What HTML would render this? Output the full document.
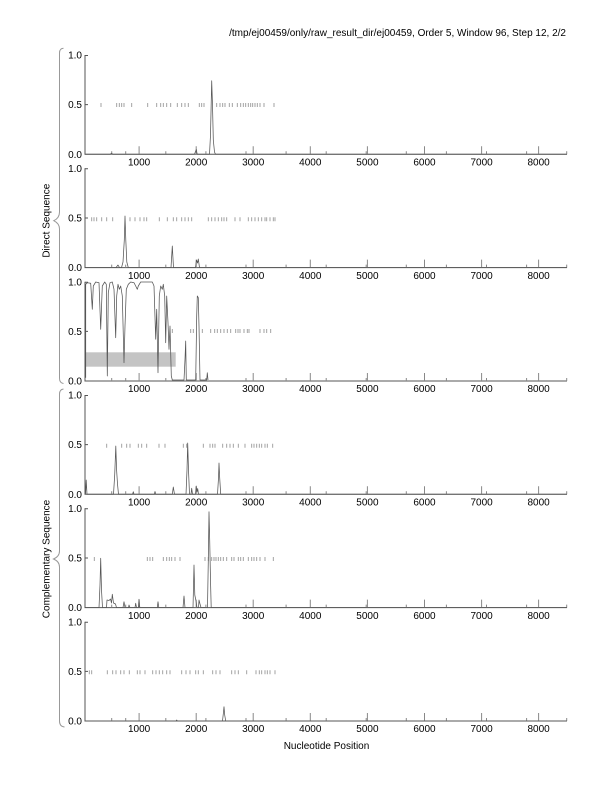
<!DOCTYPE html>
<html><head><meta charset="utf-8"><style>
html,body{margin:0;padding:0;background:#fff;}
svg{display:block;font-family:"Liberation Sans",Arial,sans-serif;}
</style></head><body>
<svg width="612" height="792" viewBox="0 0 612 792" xmlns="http://www.w3.org/2000/svg">
<defs>
<g id="ax">
<path d="M85,0 V99.3 H567" fill="none" stroke="#555" stroke-width="1"/>
<path d="M85,0.5h3M85,49.65h3" stroke="#555" stroke-width="1"/>
<path d="M139.1,99.3v-8M196.2,99.3v-8M253.2,99.3v-8M310.3,99.3v-8M367.4,99.3v-8M424.5,99.3v-8M481.6,99.3v-8M538.6,99.3v-8" stroke="#888" stroke-width="1"/>
<path d="M111.7,99.3v-3M125.7,99.3v-3M165.8,99.3v-3M205.9,99.3v-3M246,99.3v-3M286.1,99.3v-3M326.2,99.3v-3M366.2,99.3v-3M406.3,99.3v-3M446.4,99.3v-3M486.5,99.3v-3M526.6,99.3v-3M566.7,99.3v-3" stroke="#888" stroke-width="1"/>
</g>
</defs>

<text x="566" y="36" font-size="10" text-anchor="end" fill="#000">/tmp/ej00459/only/raw_result_dir/ej00459, Order 5, Window 96, Step 12, 2/2</text>

<!-- braces -->
<path d="M63.5,48.3 Q59.5,48.5 59.5,53 V212 Q59.5,218 53.8,220.7 Q59.5,223.5 59.5,229 V378 Q59.5,383 63.5,383.5" fill="none" stroke="#999" stroke-width="1"/>
<path d="M63.5,389 Q59.5,389.5 59.5,394 V551 Q59.5,556.5 53.5,559 Q59.5,561.5 59.5,567 V721 Q59.5,726.5 64.5,727" fill="none" stroke="#999" stroke-width="1"/>
<text transform="translate(49.5,220.7) rotate(-90)" font-size="10" text-anchor="middle" fill="#000">Direct Sequence</text>
<text transform="translate(49.5,559) rotate(-90)" font-size="10" text-anchor="middle" fill="#000">Complementary Sequence</text>

<!-- panel axes and labels -->
<g transform="translate(0,55)">
<use href="#ax"/>
<g font-size="10" fill="#000" text-anchor="end"><text x="82" y="3.6">1.0</text><text x="82" y="53.2">0.5</text><text x="82" y="102.9">0.0</text></g>
<g font-size="10" fill="#000" text-anchor="middle"><text x="139.1" y="110.5">1000</text><text x="196.2" y="110.5">2000</text><text x="253.2" y="110.5">3000</text><text x="310.3" y="110.5">4000</text><text x="367.4" y="110.5">5000</text><text x="424.5" y="110.5">6000</text><text x="481.6" y="110.5">7000</text><text x="538.6" y="110.5">8000</text></g>
</g>
<g transform="translate(0,168.3)">
<use href="#ax"/>
<g font-size="10" fill="#000" text-anchor="end"><text x="82" y="3.6">1.0</text><text x="82" y="53.2">0.5</text><text x="82" y="102.9">0.0</text></g>
<g font-size="10" fill="#000" text-anchor="middle"><text x="139.1" y="110.5">1000</text><text x="196.2" y="110.5">2000</text><text x="253.2" y="110.5">3000</text><text x="310.3" y="110.5">4000</text><text x="367.4" y="110.5">5000</text><text x="424.5" y="110.5">6000</text><text x="481.6" y="110.5">7000</text><text x="538.6" y="110.5">8000</text></g>
</g>
<g transform="translate(0,281.7)">
<rect x="85" y="70.6" width="90.7" height="14.4" fill="#c4c4c4"/>
<use href="#ax"/>
<g font-size="10" fill="#000" text-anchor="end"><text x="82" y="3.6">1.0</text><text x="82" y="53.2">0.5</text><text x="82" y="102.9">0.0</text></g>
<g font-size="10" fill="#000" text-anchor="middle"><text x="139.1" y="110.5">1000</text><text x="196.2" y="110.5">2000</text><text x="253.2" y="110.5">3000</text><text x="310.3" y="110.5">4000</text><text x="367.4" y="110.5">5000</text><text x="424.5" y="110.5">6000</text><text x="481.6" y="110.5">7000</text><text x="538.6" y="110.5">8000</text></g>
</g>
<g transform="translate(0,395)">
<use href="#ax"/>
<g font-size="10" fill="#000" text-anchor="end"><text x="82" y="3.6">1.0</text><text x="82" y="53.2">0.5</text><text x="82" y="102.9">0.0</text></g>
<g font-size="10" fill="#000" text-anchor="middle"><text x="139.1" y="110.5">1000</text><text x="196.2" y="110.5">2000</text><text x="253.2" y="110.5">3000</text><text x="310.3" y="110.5">4000</text><text x="367.4" y="110.5">5000</text><text x="424.5" y="110.5">6000</text><text x="481.6" y="110.5">7000</text><text x="538.6" y="110.5">8000</text></g>
</g>
<g transform="translate(0,508.3)">
<use href="#ax"/>
<g font-size="10" fill="#000" text-anchor="end"><text x="82" y="3.6">1.0</text><text x="82" y="53.2">0.5</text><text x="82" y="102.9">0.0</text></g>
<g font-size="10" fill="#000" text-anchor="middle"><text x="139.1" y="110.5">1000</text><text x="196.2" y="110.5">2000</text><text x="253.2" y="110.5">3000</text><text x="310.3" y="110.5">4000</text><text x="367.4" y="110.5">5000</text><text x="424.5" y="110.5">6000</text><text x="481.6" y="110.5">7000</text><text x="538.6" y="110.5">8000</text></g>
</g>
<g transform="translate(0,621.7)">
<use href="#ax"/>
<g font-size="10" fill="#000" text-anchor="end"><text x="82" y="3.6">1.0</text><text x="82" y="53.2">0.5</text><text x="82" y="102.9">0.0</text></g>
<g font-size="10" fill="#000" text-anchor="middle"><text x="139.1" y="110.5">1000</text><text x="196.2" y="110.5">2000</text><text x="253.2" y="110.5">3000</text><text x="310.3" y="110.5">4000</text><text x="367.4" y="110.5">5000</text><text x="424.5" y="110.5">6000</text><text x="481.6" y="110.5">7000</text><text x="538.6" y="110.5">8000</text></g>
</g>

<text x="326.5" y="749" font-size="10" text-anchor="middle" fill="#000">Nucleotide Position</text>

<!-- 0.5 marker ticks -->
<g stroke="#999" stroke-width="0.9" fill="none">
<path d="M101,103v4M116.7,103v4M119.3,103v4M121.7,103v4M124,103v4M131.7,103v4M147.7,103v4M156.7,103v4M160.7,103v4M163.3,103v4M166.7,103v4M170.7,103v4M177.3,103v4M181.7,103v4M185,103v4M188.3,103v4M199.3,103v4M201.7,103v4M204,103v4M216.7,103v4M220,103v4M222.7,103v4M225,103v4M229.3,103v4M232.3,103v4M237.3,103v4M240.7,103v4M243.3,103v4M245.7,103v4M248.3,103v4M250.7,103v4M252.7,103v4M255,103v4M257.3,103v4M260,103v4M264,103v4M274,103v4"/>
<path d="M91.7,217.3v4M94,217.3v4M96.7,217.3v4M101.7,217.3v4M106.7,217.3v4M112.7,217.3v4M130,217.3v4M135,217.3v4M140,217.3v4M144,217.3v4M146.7,217.3v4M159.3,217.3v4M167.3,217.3v4M173.3,217.3v4M176.7,217.3v4M181.7,217.3v4M185,217.3v4M188.3,217.3v4M191.7,217.3v4M208.3,217.3v4M211.7,217.3v4M215,217.3v4M218.3,217.3v4M221.7,217.3v4M224,217.3v4M226.7,217.3v4M235,217.3v4M240,217.3v4M248.3,217.3v4M251.7,217.3v4M255,217.3v4M258.3,217.3v4M261.7,217.3v4M265,217.3v4M266.7,217.3v4M270,217.3v4M273.3,217.3v4M275,217.3v4"/>
<path d="M172.3,329v4M190.7,329v4M193.3,329v4M202.3,329v4M210.7,329v4M214.7,329v4M217.3,329v4M220.7,329v4M224,329v4M227.3,329v4M230.7,329v4M235.7,329v4M238,329v4M240,329v4M244,329v4M247.3,329v4M249,329v4M260,329v4M264,329v4M266.7,329v4M270.7,329v4"/>
<path d="M106.7,443.7v4M121.7,443.7v4M126.7,443.7v4M130,443.7v4M138.3,443.7v4M141.7,443.7v4M146.7,443.7v4M159,443.7v4M165,443.7v4M183.3,443.7v4M186.7,443.7v4M203.3,443.7v4M210,443.7v4M212.7,443.7v4M215,443.7v4M222.7,443.7v4M226.7,443.7v4M230,443.7v4M233.3,443.7v4M238.3,443.7v4M245,443.7v4M251.7,443.7v4M254,443.7v4M256.7,443.7v4M259.3,443.7v4M261.7,443.7v4M265,443.7v4M267.3,443.7v4M272.7,443.7v4"/>
<path d="M94.3,557v4M147.3,557v4M150,557v4M152.7,557v4M163.3,557v4M166.7,557v4M169.3,557v4M171.7,557v4M175,557v4M180,557v4M205,557v4M208.3,557v4M211.7,557v4M214,557v4M216,557v4M218.3,557v4M220.7,557v4M223.3,557v4M226.7,557v4M231.7,557v4M234,557v4M238.3,557v4M240.7,557v4M243.3,557v4M248.3,557v4M251.7,557v4M254,557v4M256.7,557v4M260,557v4M265,557v4M273.3,557v4"/>
<path d="M89.3,670.3v4M91.7,670.3v4M107.3,670.3v4M112.7,670.3v4M116,670.3v4M120.7,670.3v4M124,670.3v4M129.3,670.3v4M137.3,670.3v4M140,670.3v4M145,670.3v4M152.7,670.3v4M156,670.3v4M159.3,670.3v4M162.7,670.3v4M166.7,670.3v4M170,670.3v4M181.7,670.3v4M186,670.3v4M190,670.3v4M195.7,670.3v4M198.3,670.3v4M203.3,670.3v4M212.7,670.3v4M216,670.3v4M220,670.3v4M231.7,670.3v4M235,670.3v4M238.3,670.3v4M246.7,670.3v4M256,670.3v4M259.3,670.3v4M261.7,670.3v4M265,670.3v4M267.3,670.3v4M270,670.3v4M275,670.3v4"/>
</g>

<!-- traces -->
<g stroke="#555" stroke-width="0.75" fill="none" stroke-linejoin="round">
<path d="M85,154.3 L110,154.3 L111.5,153.3 L113,154.3 L194.5,154.3 L195.5,151.5 L196.3,149.5 L197.2,154.3 L209.5,154.3 L210.5,135 L211.7,80.7 L212.5,105 L213.3,140 L214.5,152 L215.5,154.3 L567,154.3"/>
<path d="M85,267.6 L116,267.6 L118,265 L119.5,267.6 L121.5,267.6 L123,262 L124.3,240 L125,216 L125.8,240 L126.8,262 L128.3,267.6 L171,267.6 L172.3,246 L173.5,267.6 L195.5,267.6 L196.5,260 L197.5,263 L198.3,259 L199.5,267.6 L567,267.6"/>
<path d="M85.7,377.7 L85.7,284.3 L87.3,282.7 L90.7,283.3 L92.3,309.3 L93.3,286 L95.7,282 L99,282.7 L100.7,329.3 L102.3,286 L104.7,282 L106.3,284.3 L107.3,376 L108.3,292.7 L110,282.7 L112.3,282 L114,289.3 L115.7,337.7 L116.7,296 L118,284.3 L119.3,289.3 L120.7,286 L122.3,296 L124,362.7 L125,326 L126.3,289.3 L128.3,284.3 L130.7,282 L134,282.7 L135.7,286 L137.3,289.3 L138.3,286 L140.7,282 L152.3,282 L154,286 L155.7,339.3 L156.7,309.3 L158,372.7 L159.3,296 L160.7,286 L162.3,289.3 L163.3,284.3 L164.7,296 L165.7,342.7 L166.7,296 L168,322.7 L169,349.3 L170,326 L171.3,376 L172.3,380 L184,380 L185,359.3 L185.7,341 L186.3,380 L195.7,380 L196.7,316 L197.3,296 L198.3,297.7 L199,326 L200,380 L206.7,380 L207.3,372.7 L208,380"/>
<path d="M85.5,494.3 L86.2,480 L87,494.3 L113.5,494.3 L114.7,475 L115.8,446 L116.6,470 L117.5,484 L118.5,494.3 L132.5,494.3 L133.3,491.7 L134,494.3 L154.3,494.3 L155,491.5 L155.8,494.3 L172.3,494.3 L173.3,487 L174.5,494.3 L186,494.3 L187,470 L187.7,443 L188.5,470 L189.5,494.3 L191,494.3 L191.7,488.3 L192.5,494.3 L195.5,494.3 L196.2,486 L197,492 L197.7,488.5 L198.5,494.3 L217.5,494.3 L218.5,478 L219,463 L219.7,478 L220.7,494.3 L567,494.3"/>
<path d="M85,607.6 L99,607.6 L100,585 L100.7,558.3 L101.5,590 L102.5,607.6 L106.5,607.6 L107,600 L109,600.5 L110.5,599 L111.5,603 L112.3,594.3 L113.5,603 L115.5,604 L116.5,607.6 L123,607.6 L124,601.7 L125,607.6 L128.5,607.6 L129,605 L130,607.6 L135,607.6 L135.7,603.3 L136.5,607.6 L138.3,607.6 L139,599.3 L139.8,607.6 L157.3,607.6 L158,601.7 L158.8,607.6 L183,607.6 L184,596 L185,607.6 L193,607.6 L194,565 L194.8,595 L196,601 L197,607.6 L198.5,607.6 L199,600 L200,604 L201,607.6 L207.5,607.6 L208.3,560 L209,511.7 L209.7,540 L210.5,580 L211.2,607.6 L567,607.6"/>
<path d="M85,721 L176,721 L176.7,720 L177.3,721 L222.5,721 L223.5,712 L224,706.7 L224.7,715 L225.7,721 L567,721"/>
</g>
</svg>
</body></html>
